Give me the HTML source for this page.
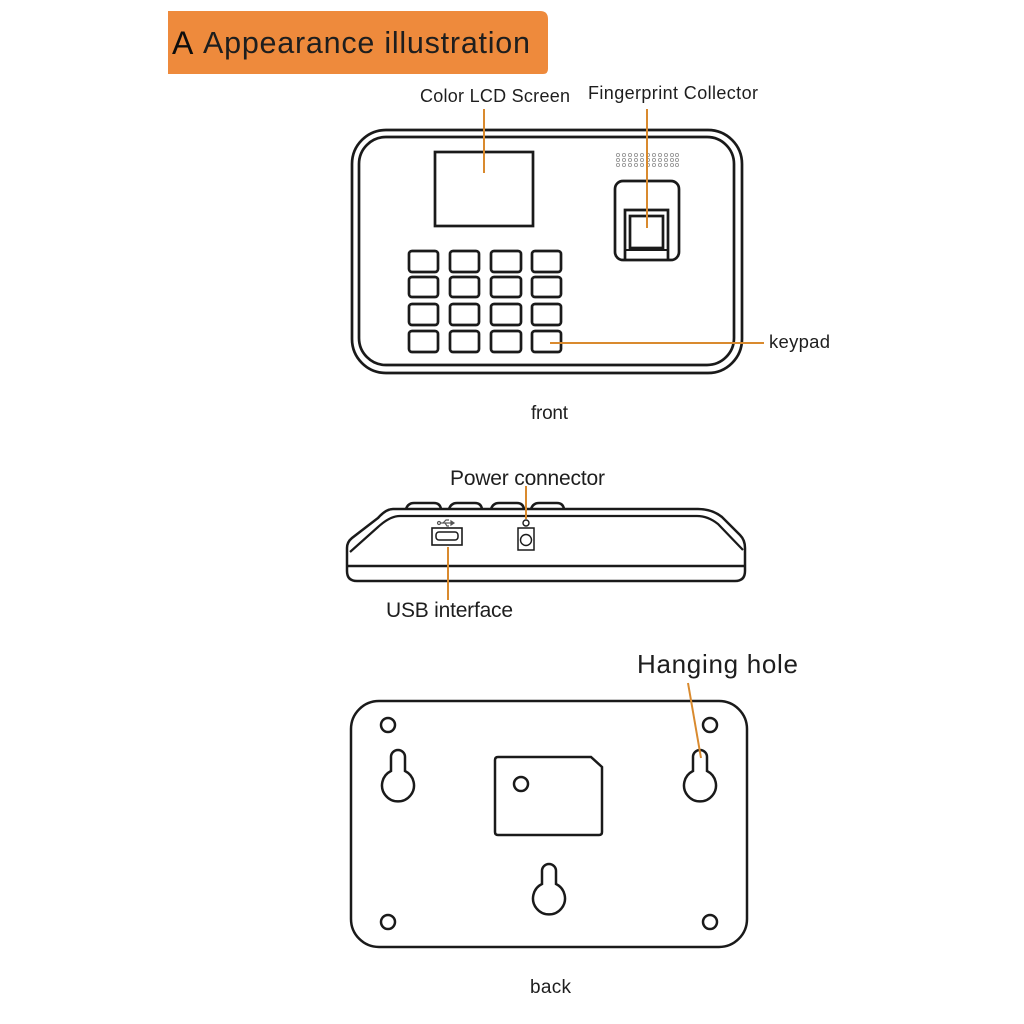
<!DOCTYPE html>
<html><head><meta charset="utf-8"><style>
html,body{margin:0;padding:0;background:#fff;}
svg{display:block;}
text{font-family:"Liberation Sans",Arial,sans-serif;fill:#1e1e1e;}
</style></head><body>
<svg width="1024" height="1024" viewBox="0 0 1024 1024" xmlns="http://www.w3.org/2000/svg">
<rect width="1024" height="1024" fill="#fff"/>
<!-- header banner -->
<path d="M168,11 L540,11 Q548,11 548,19 L548,69 Q548,74 543,74 L168,74 Z" fill="#EE8A3C"/>
<text x="172" y="54" font-size="32" style="fill:#0d0d0d">A</text>
<text x="203" y="53" font-size="30.5" textLength="327" lengthAdjust="spacing">Appearance illustration</text>

<!-- FRONT -->
<g fill="none" stroke="#1a1a1a" stroke-width="2.7">
  <rect x="352" y="130" width="390" height="243" rx="34"/>
  <rect x="359" y="137" width="375" height="228" rx="27"/>
  <rect x="435" y="152" width="98" height="74"/>
  <!-- keys -->
  <rect x="409" y="251" width="29" height="21" rx="3"/>
  <rect x="450" y="251" width="29" height="21" rx="3"/>
  <rect x="491" y="251" width="30" height="21" rx="3"/>
  <rect x="532" y="251" width="29" height="21" rx="3"/>
  <rect x="409" y="277" width="29" height="20" rx="3"/>
  <rect x="450" y="277" width="29" height="20" rx="3"/>
  <rect x="491" y="277" width="30" height="20" rx="3"/>
  <rect x="532" y="277" width="29" height="20" rx="3"/>
  <rect x="409" y="304" width="29" height="21" rx="3"/>
  <rect x="450" y="304" width="29" height="21" rx="3"/>
  <rect x="491" y="304" width="30" height="21" rx="3"/>
  <rect x="532" y="304" width="29" height="21" rx="3"/>
  <rect x="409" y="331" width="29" height="21" rx="3"/>
  <rect x="450" y="331" width="29" height="21" rx="3"/>
  <rect x="491" y="331" width="30" height="21" rx="3"/>
  <rect x="532" y="331" width="29" height="21" rx="3"/>
  <!-- fingerprint -->
  <rect x="615" y="181" width="64" height="79" rx="8"/>
  <path d="M625,260 L625,210 L668,210 L668,260"/>
  <rect x="630" y="216" width="33" height="32"/>
  <line x1="625" y1="250" x2="668" y2="250" stroke-width="2"/>
</g>
<!-- speaker dots -->
<g fill="none" stroke="#9a9a9a" stroke-width="0.9">
  <g id="row">
    <circle cx="618" cy="155" r="1.6"/><circle cx="624" cy="155" r="1.6"/><circle cx="630" cy="155" r="1.6"/><circle cx="636" cy="155" r="1.6"/><circle cx="642" cy="155" r="1.6"/><circle cx="648" cy="155" r="1.6"/><circle cx="654" cy="155" r="1.6"/><circle cx="660" cy="155" r="1.6"/><circle cx="666" cy="155" r="1.6"/><circle cx="672" cy="155" r="1.6"/><circle cx="677" cy="155" r="1.6"/>
  </g>
  <use href="#row" y="5"/>
  <use href="#row" y="10"/>
</g>
<!-- front leaders -->
<g stroke="#D98A2E" stroke-width="2" fill="none">
  <line x1="484" y1="109" x2="484" y2="173"/>
  <line x1="647" y1="109" x2="647" y2="228"/>
  <line x1="550" y1="343" x2="764" y2="343"/>
</g>
<text x="420" y="102" font-size="18" textLength="150" lengthAdjust="spacing">Color LCD Screen</text>
<text x="588" y="99" font-size="18" textLength="170" lengthAdjust="spacing">Fingerprint Collector</text>
<text x="769" y="348" font-size="18.5" textLength="61" lengthAdjust="spacing">keypad</text>
<text x="531" y="419" font-size="19" textLength="37" lengthAdjust="spacing">front</text>

<!-- SIDE -->
<g fill="none" stroke="#1a1a1a" stroke-width="2.5">
  <!-- top tabs -->
  <path d="M406,509 Q408,503 414,503 L434,503 Q440,503 441,509"/>
  <path d="M449,509 Q451,503 457,503 L475,503 Q481,503 482,509"/>
  <path d="M491,509 Q493,503 499,503 L517,503 Q523,503 524,509"/>
  <path d="M531,509 Q533,503 539,503 L557,503 Q563,503 564,509"/>
  <!-- outer silhouette -->
  <path d="M393,509 L698,509 Q712,509 722,517 L740,535 Q745,540 745,548 L745,571 Q745,581 735,581 L357,581 Q347,581 347,571 L347,548 Q347,542 352,538 L378,518 Q386,509 393,509 Z"/>
  <!-- inner top line -->
  <path d="M350,552 L378,527 Q390,516 400,516 L697,516 Q708,516 718,524 L743,550" stroke-width="2.2"/>
  <!-- bottom band -->
  <line x1="347" y1="566" x2="745" y2="566"/>
  <!-- USB port -->
  <rect x="432" y="528" width="30" height="17" stroke-width="1.6"/>
  <rect x="436" y="532" width="22" height="8" rx="3" stroke-width="1.5"/>
  <!-- power -->
  <circle cx="526" cy="523" r="3" stroke-width="1.4"/>
  <rect x="518" y="528" width="16" height="22" stroke-width="1.5"/>
  <circle cx="526" cy="540" r="5.5" stroke-width="1.4"/>
</g>
<!-- usb icon -->
<g stroke="#555" stroke-width="1.2" fill="none">
  <circle cx="439" cy="523" r="1.5"/>
  <line x1="440.5" y1="523" x2="452" y2="523"/>
  <path d="M443,523 L446,520 L449,520"/>
  <path d="M445,523 L447,526 L449,526"/>
  <path d="M451,521 L454,523 L451,525 Z" fill="#555"/>
</g>
<g stroke="#D98A2E" stroke-width="2" fill="none">
  <line x1="526" y1="486" x2="526" y2="519"/>
  <line x1="448" y1="547" x2="448" y2="600"/>
</g>
<text x="450" y="485" font-size="21" textLength="155" lengthAdjust="spacing">Power connector</text>
<text x="386" y="617" font-size="21" textLength="127" lengthAdjust="spacing">USB interface</text>

<!-- BACK -->
<g fill="none" stroke="#1a1a1a" stroke-width="2.5">
  <rect x="351" y="701" width="396" height="246" rx="28"/>
  <circle cx="388" cy="725" r="7"/>
  <circle cx="710" cy="725" r="7"/>
  <circle cx="388" cy="922" r="7"/>
  <circle cx="710" cy="922" r="7"/>
  <path d="M391,771 L391,757 A7,7 0 0 1 405,757 L405,771 A16,16 0 1 1 391,771 Z"/>
  <path d="M693,771 L693,757 A7,7 0 0 1 707,757 L707,771 A16,16 0 1 1 693,771 Z"/>
  <path d="M542,884 L542,871 A7,7 0 0 1 556,871 L556,884 A16,16 0 1 1 542,884 Z"/>
  <path d="M498,757 L591,757 L602,767 L602,832 Q602,835 599,835 L498,835 Q495,835 495,832 L495,760 Q495,757 498,757 Z"/>
  <circle cx="521" cy="784" r="7"/>
</g>
<line x1="688" y1="683" x2="701" y2="758" stroke="#D98A2E" stroke-width="2"/>
<text x="637" y="673" font-size="26" textLength="161" lengthAdjust="spacing">Hanging hole</text>
<text x="530" y="993" font-size="19" textLength="41" lengthAdjust="spacing">back</text>
</svg>
</body></html>
